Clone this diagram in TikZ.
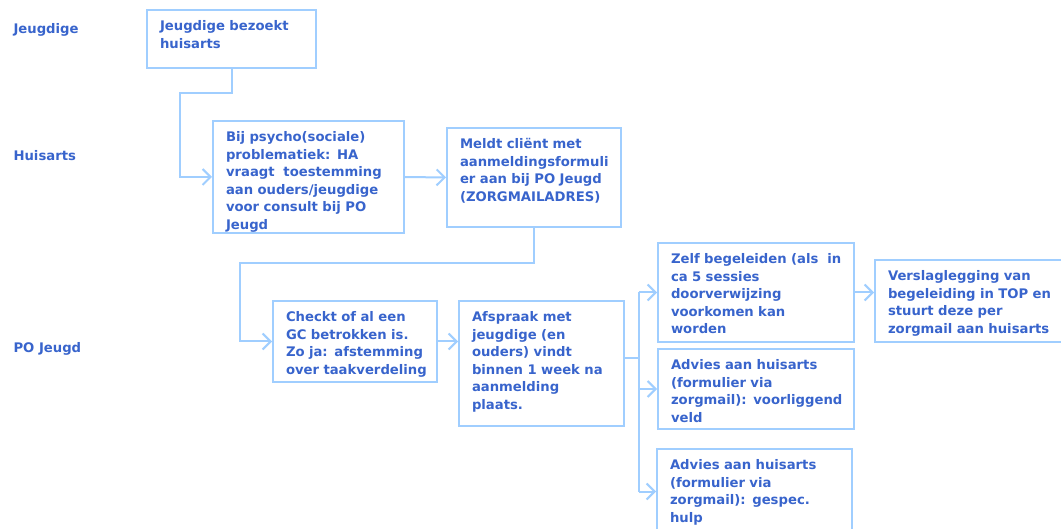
\documentclass[tikz,border=0pt]{standalone}
\usepackage{fontspec}
\setmainfont{DejaVu Sans}
\usepackage{tikz}
\usetikzlibrary{arrows.meta}
\definecolor{textblue}{RGB}{56,100,204}
\definecolor{lineblue}{RGB}{160,206,255}
\tikzstyle{Step}=[rectangle, draw=lineblue, line width=2pt, inner xsep=13pt, inner ysep=4pt, text height=16.6pt, align=left, anchor=north west, text=textblue, font=\fontsize{13.2}{17.5}\selectfont\bfseries, execute at begin node={\rightskip=0pt minus 40pt}]
\tikzstyle{Lane}=[anchor=west, text=textblue, font=\fontsize{13.2}{15}\selectfont\bfseries]
\tikzstyle{Flow}=[draw=lineblue, line width=2pt, -{Straight Barb[length=8pt,width=16pt,line width=2pt]}]

\begin{document}
\begin{tikzpicture}[x=1pt, y=-1pt]
    \useasboundingbox (0,0) rectangle (1061,529);
    \path
    (10,30) node[Lane] (ljeugd) {Jeugdige}
    (10,156) node[Lane] (lhuis) {Huisarts}
    (10,349) node[Lane] (lpo) {PO Jeugd};

    \path
    (146,9) node[Step, text width=143, minimum width=169, text depth=33.4] (jvisit) {Jeugdige bezoekt\\huisarts}
    (212,120) node[Step, text width=165, minimum width=191, text depth=87.4] (hconsent) {Bij psycho(sociale)\\problematiek: HA\\vraagt\ \ toestemming\\aan ouders/jeugdige\\voor consult bij PO\\Jeugd}
    (446,127) node[Step, text width=148, minimum width=174, text depth=74.4] (hreport) {Meldt cliënt met\\aanmeldingsformuli\\er aan bij PO Jeugd\\(ZORGMAILADRES)}
    (272,300) node[Step, text width=138, minimum width=164, text depth=56.4] (pcheck) {Checkt of al een\\GC betrokken is.\\Zo ja: afstemming\\over taakverdeling}
    (458,300) node[Step, text width=139, minimum width=165, text depth=100.4] (pmeet) {Afspraak met\\jeugdige (en\\ouders) vindt\\binnen 1 week na\\aanmelding\\plaats.}
    (657,242) node[Step, text width=170, minimum width=196, text depth=74.4] (pself) {Zelf begeleiden (als\ \ in\\ca 5 sessies\\doorverwijzing\\voorkomen kan\\worden}
    (657,348) node[Step, text width=170, minimum width=196, text depth=55.4] (padvice) {Advies aan huisarts\\(formulier via\\zorgmail): voorliggend\\veld}
    (656,448) node[Step, text width=169, minimum width=195, text depth=60.4] (pspec) {Advies aan huisarts\\(formulier via\\zorgmail): gespec.\\hulp}
    (874,259) node[Step, text width=174, minimum width=200, text depth=57.4] (preport) {Verslaglegging van\\begeleiding in TOP en\\stuurt deze per\\zorgmail aan huisarts};

    \coordinate (k1) at (180,93);
    \coordinate (k2) at (240,263);
    \coordinate (k3) at (639,358);

    \draw[Flow] (jvisit.south) |- (k1) |- (hconsent.west);
    \draw[Flow] (hconsent.east) -- (hreport.west);
    \draw[Flow] (hreport.south) |- (k2) |- (pcheck.west);
    \draw[Flow] (pcheck.east) -- (pcheck.east -| pmeet.west);
    \draw[draw=lineblue, line width=2pt] (pmeet.east |- k3) -- (k3);
    \draw[draw=lineblue, line width=2pt] (k3 |- pself.west) -- (k3 |- pspec.west);
    \draw[Flow] (k3 |- pself.west) -- (pself.west);
    \draw[Flow] (k3 |- padvice.west) -- (padvice.west);
    \draw[Flow] (k3 |- pspec.west) -- (pspec.west);
    \draw[Flow] (pself.east) -- (pself.east -| preport.west);
\end{tikzpicture}
\end{document}
